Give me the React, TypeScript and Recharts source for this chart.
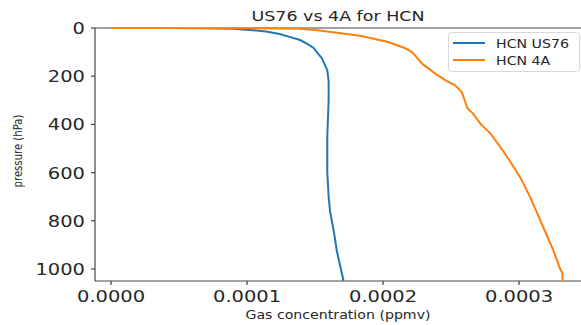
import React from 'react';
import { ScatterChart, Scatter, XAxis, YAxis, ReferenceLine } from 'recharts';

// HCN profiles: pressure levels (hPa) and volume mixing ratio (ppmv)
const pressureUS76 = [0, 0.3, 1, 3, 8, 15, 25, 40, 50, 65, 83, 105, 125, 150, 175, 220, 300, 450, 600, 700, 760, 850, 925, 1000, 1050];
const hcnUS76 = [0, 0.00004, 0.00007, 0.00009, 0.000102, 0.000114, 0.000124, 0.000133, 0.000139, 0.000144, 0.000149, 0.000152, 0.000155, 0.000157, 0.000159, 0.00016, 0.00016, 0.000159, 0.000159, 0.00016, 0.000161, 0.000164, 0.000166, 0.000169, 0.000171];

const pressure4A = [0, 0.3, 1, 3, 8, 15, 32, 57, 83, 95, 110, 130, 150, 175, 196, 220, 238, 267, 300, 333, 354, 400, 438, 508, 550, 621, 700, 829, 920, 996, 1020, 1050];
const hcn4A = [0, 0.00005, 0.0001, 0.000139, 0.00015, 0.000159, 0.000183, 0.000203, 0.000216, 0.00022, 0.000223, 0.000226, 0.000229, 0.000235, 0.00024, 0.000247, 0.000253, 0.000258, 0.00026, 0.000262, 0.000266, 0.000272, 0.000279, 0.000288, 0.000293, 0.000301, 0.000308, 0.000318, 0.000325, 0.00033, 0.000332, 0.000332];

const xTicks = [0, 0.0001, 0.0002, 0.0003];
const yTicks = [0, 200, 400, 600, 800, 1000];

const seriesNames = ['HCN US76', 'HCN 4A'];
const seriesColors = ['#1f77b4', '#ff7f0e'];

const FONT = '"DejaVu Sans", sans-serif';
const TEXT = '#262626';
const AXIS = '#444';
// the figure was saved stretched sideways, so text is widened a bit
const SX = 1.18;

const toPoints = (p: number[], v: number[]) => p.map((pp, i) => ({ p: pp, v: v[i] }));
const us76Data = toPoints(pressureUS76, hcnUS76);
const a4Data = toPoints(pressure4A, hcn4A);

const XTick = (props: any) => (
  <text
    transform={`translate(${props.x},302) scale(${SX},1)`}
    textAnchor="middle"
    fontFamily={FONT}
    fontSize={16.5}
    fill={TEXT}
  >
    {Number(props.payload.value).toFixed(4)}
  </text>
);

const YTick = (props: any) => (
  <text
    transform={`translate(85,${props.y + 6}) scale(${SX},1)`}
    textAnchor="end"
    fontFamily={FONT}
    fontSize={16.5}
    fill={TEXT}
  >
    {props.payload.value}
  </text>
);

const noDot = () => <g />;

const App = () => {
  return (
    <div style={{ position: 'absolute', left: 0, top: 0, width: 581, height: 325, overflow: 'hidden', background: '#fff' }}>
      <ScatterChart width={600} height={325} margin={{ top: 28, right: 15, bottom: 0, left: 0 }}>
        <XAxis
          type="number"
          dataKey="v"
          domain={[-0.0000118, 0.0003485]}
          allowDataOverflow
          ticks={xTicks}
          tick={<XTick />}
          tickSize={4}
          height={44}
          axisLine={{ stroke: AXIS, strokeWidth: 1.2 }}
          tickLine={{ stroke: AXIS, strokeWidth: 1.2 }}
        />
        <YAxis
          type="number"
          dataKey="p"
          domain={[0, 1050]}
          reversed
          allowDataOverflow
          ticks={yTicks}
          tick={<YTick />}
          tickSize={4}
          width={95}
          axisLine={{ stroke: AXIS, strokeWidth: 1.2 }}
          tickLine={{ stroke: AXIS, strokeWidth: 1.2 }}
        />
        <ReferenceLine y={0} stroke={AXIS} strokeWidth={1.2} />
        <Scatter
          name={seriesNames[0]}
          data={us76Data}
          line={{ stroke: seriesColors[0], strokeWidth: 2 }}
          lineType="joint"
          shape={noDot}
          isAnimationActive={false}
        />
        <Scatter
          name={seriesNames[1]}
          data={a4Data}
          line={{ stroke: seriesColors[1], strokeWidth: 2 }}
          lineType="joint"
          shape={noDot}
          isAnimationActive={false}
        />
      </ScatterChart>

      {/* title, axis labels and legend */}
      <svg width={581} height={325} style={{ position: 'absolute', left: 0, top: 0, pointerEvents: 'none' }}>
        <text transform={`translate(338,21) scale(${SX},1)`} textAnchor="middle" fontFamily={FONT} fontSize={14.8} fill={TEXT}>
          US76 vs 4A for HCN
        </text>
        <text transform={`translate(338,319) scale(${SX},1)`} textAnchor="middle" fontFamily={FONT} fontSize={12} fill={TEXT}>
          Gas concentration (ppmv)
        </text>
        <text transform={`translate(22,151) scale(${SX},1) rotate(-90)`} textAnchor="middle" fontFamily={FONT} fontSize={10.1} fill={TEXT}>
          pressure (hPa)
        </text>

        <rect x={448.5} y={32.5} width={131} height={39} rx={3} fill="#fff" fillOpacity={0.8} stroke="#d9d9d9" />
        {seriesNames.map((name, i) => (
          <g key={name}>
            <line x1={453} x2={485} y1={43 + i * 17} y2={43 + i * 17} stroke={seriesColors[i]} strokeWidth={2} />
            <text transform={`translate(496,${47.5 + i * 17}) scale(${SX},1)`} fontFamily={FONT} fontSize={12} fill={TEXT}>
              {name}
            </text>
          </g>
        ))}
      </svg>
    </div>
  );
};

export default App;
